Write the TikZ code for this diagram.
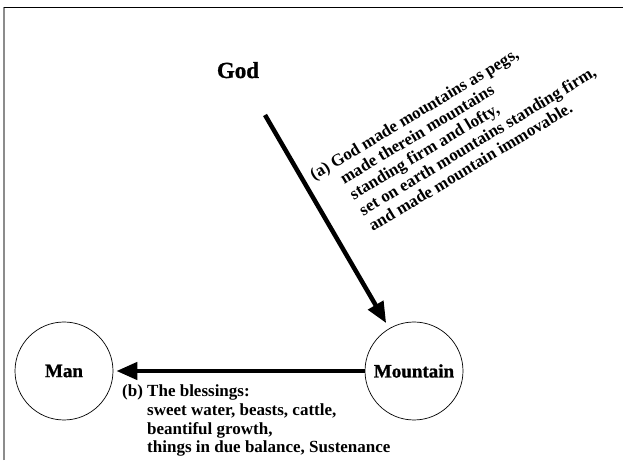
\documentclass[tikz,border=0pt]{standalone}
\usepackage{fontspec}
\setmainfont{Liberation Serif}
\usetikzlibrary{arrows.meta}
\begin{document}
\begin{tikzpicture}[x=1pt,y=1pt,
    bubble/.style={draw,circle,line width=0.7pt,minimum size=98pt,inner sep=0pt},
    thickarrow/.style={line width=4.5pt,-{Triangle[length=21pt,width=17pt]}},
    caption/.style={inner sep=0pt,anchor=base west,font=\fontsize{17}{18.5}\selectfont\bfseries},
    title/.style={font=\bfseries\addfontfeatures{FakeBold=1}}]
    \useasboundingbox (0,0) rectangle (623,460);
    \draw[black!45,line width=1.6pt] (4,0) -- (4,453);
    \draw[line width=0.8pt] (4,453) -- (623,453);
    % the three parties
    \node[title,anchor=base,font=\fontsize{23}{26}\selectfont\bfseries\addfontfeatures{FakeBold=1}] (god) at (238,382) {God};
    \coordinate (godarrow) at (265,345);
    \node[bubble,title,font=\fontsize{19}{22}\selectfont\bfseries\addfontfeatures{FakeBold=1}] (mountain) at (414,89) {Mountain};
    \node[bubble,title,font=\fontsize{19}{22}\selectfont\bfseries\addfontfeatures{FakeBold=1}] (man) at (64,89) {Man};
    \draw[thickarrow,shorten >=6pt] (godarrow) -- (mountain);
    \draw[thickarrow,shorten >=3pt] (mountain) -- (man);
    % the two captions
    \node[caption,rotate=31] (acaption) at (314,279) {\begin{tabular}[t]{@{}l@{ }l@{}}
        (a) & God made mountains as pegs,\\
            & made therein mountains\\
            & standing firm and lofty,\\
            & set on earth mountains standing firm,\\
            & and made mountain immovable.
    \end{tabular}};
    \node[caption] (bcaption) at (122,63) {\begin{tabular}[t]{@{}l@{ }l@{}}
        (b) & The blessings:\\
            & sweet water, beasts, cattle,\\
            & beantiful growth,\\
            & things in due balance, Sustenance
    \end{tabular}};
\end{tikzpicture}
\end{document}
